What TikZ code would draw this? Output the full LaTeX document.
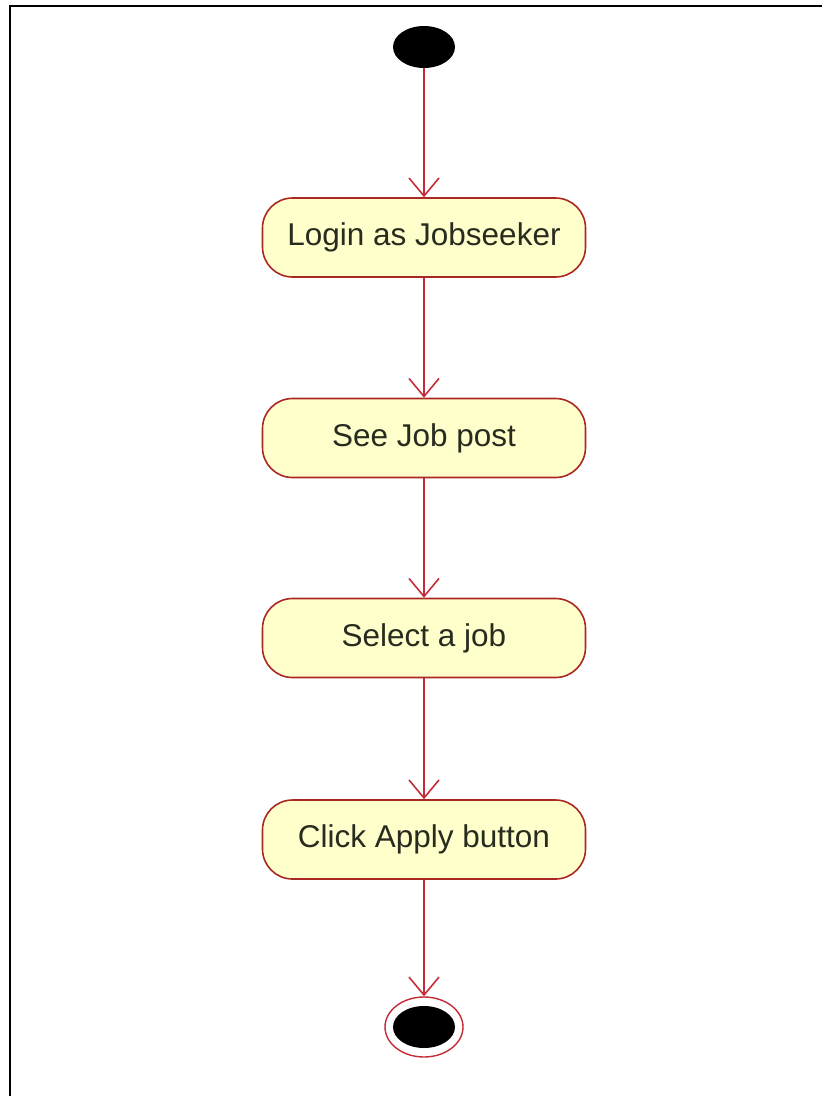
\documentclass[tikz,border=0pt]{standalone}
\usepackage{fontspec}
\setmainfont{Liberation Sans}
\usetikzlibrary{shapes.geometric,arrows.meta}
\definecolor{flowred}{RGB}{196,44,56}
\definecolor{boxedge}{RGB}{170,40,36}
\definecolor{boxfill}{RGB}{255,255,204}
\definecolor{txt}{RGB}{40,44,30}
\tikzset{
  x=1pt, y=-1pt,
  action/.style={draw=boxedge, fill=boxfill, line width=1.6pt,
    rounded corners=30pt, minimum width=323pt, minimum height=79pt,
    font=\fontsize{31.5}{36}\selectfont, text=txt, inner sep=0pt},
  startdot/.style={ellipse, fill=black, minimum width=62pt, minimum height=42pt, inner sep=0pt},
  enddot/.style={ellipse, draw=flowred, line width=1.4pt, fill=white,
    minimum width=78pt, minimum height=60pt, inner sep=0pt},
  flow/.style={draw=flowred, line width=1.8pt,
    -{Straight Barb[length=18pt, width=30pt, line width=1.6pt]}},
}
\newcommand{\actlabel}[1]{\raisebox{-2pt}{#1}}
\begin{document}
\begin{tikzpicture}
\useasboundingbox (0,0) rectangle (822,1096);
% frame
\draw[line width=2.6pt, black] (10,1096) -- (10,6) -- (822,6);
% nodes
\node[startdot] (start) at (424,47) {};
\node[action] (login) at (424,237.5) {\actlabel{Login as Jobseeker}};
\node[action] (see) at (424,438) {\actlabel{See Job post}};
\node[action] (select) at (424,638) {\actlabel{Select a job}};
\node[action] (apply) at (424,839.5) {\actlabel{Click Apply button}};
\node[enddot] (final) at (424,1027) {};
\node[startdot] (finalcore) at (424,1027) {};
% transitions
\draw[flow] (start) -- (login);
\draw[flow] (login) -- (see);
\draw[flow] (see) -- (select);
\draw[flow] (select) -- (apply);
\draw[flow] (apply) -- (final);
\end{tikzpicture}
\end{document}
